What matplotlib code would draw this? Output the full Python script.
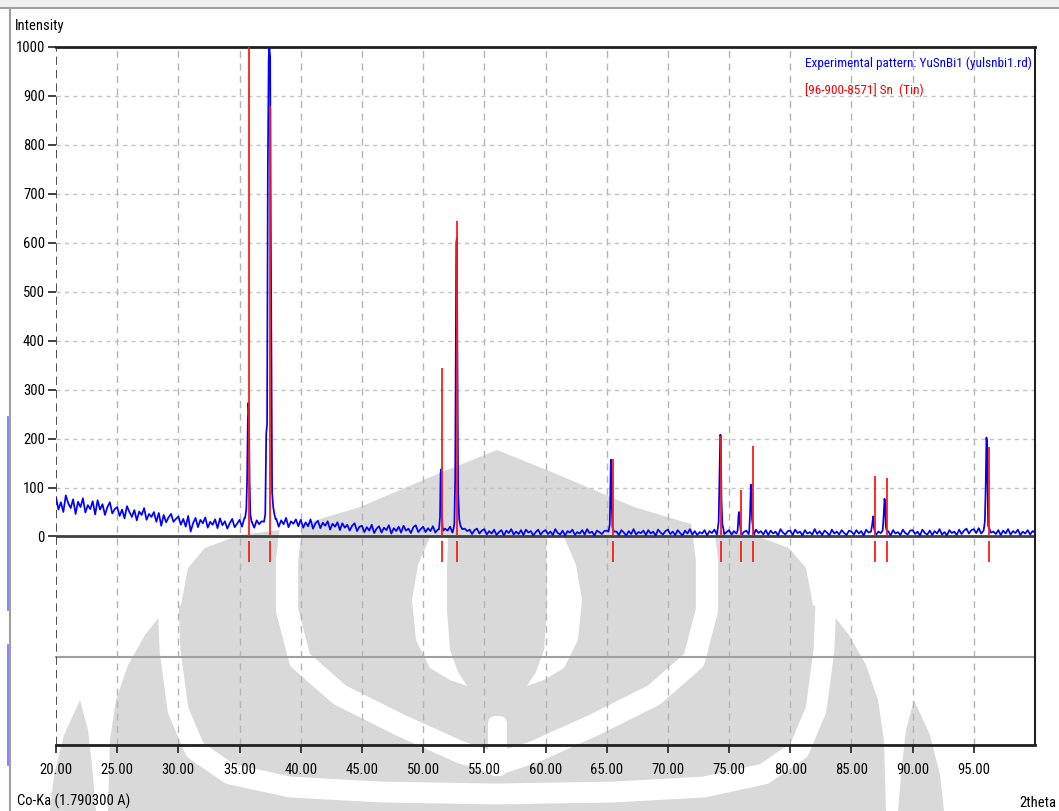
import numpy as np
import matplotlib
matplotlib.use("Agg")
import matplotlib.pyplot as plt
from matplotlib import font_manager as fm
from matplotlib.patches import Polygon, Rectangle, FancyBboxPatch

# Scan background, one reading every 0.2 deg from 20.0 to 100.0
bg_start = 20.0
bg_step = 0.2
bg_counts = [
    80, 55, 70, 50, 84, 68, 58, 76, 46, 71, 60, 78, 49, 64, 56, 72, 45, 74, 55, 66, 44, 60, 70, 47, 56,  # 20-25
    60, 42, 55, 37, 62, 50, 40, 54, 33, 51, 44, 58, 34, 46, 40, 50, 30, 48, 22, 44, 29, 39, 46, 30, 36,  # 25-30
    41, 24, 36, 20, 42, 10, 27, 38, 19, 34, 27, 39, 18, 30, 24, 35, 17, 37, 23, 31, 16, 27, 36, 19, 26,  # 30-35
    34, 20, 38, 24, 28, 30, 18, 33, 25, 31, 24, 28, 22, 30, 24, 36, 20, 33, 25, 38, 19, 31, 26, 35, 21,  # 35-40
    34, 18, 29, 21, 35, 16, 27, 32, 17, 28, 22, 31, 14, 26, 20, 29, 13, 27, 18, 24, 12, 22, 27, 11, 20,  # 40-45
    22, 9, 19, 12, 24, 7, 16, 21, 8, 18, 13, 23, 6, 17, 11, 20, 8, 22, 12, 16, 7, 19, 23, 9, 15,        # 45-50
    20, 9, 17, 11, 21, 8, 14, 19, 7, 16, 12, 20, 8, 15, 10, 17, 6, 16, 11, 14, 5, 13, 16, 6, 12,        # 50-55
    15, 4, 11, 6, 14, 3, 9, 13, 2, 12, 7, 15, 4, 10, 5, 13, 3, 14, 8, 11, 2, 9, 14, 4, 10,              # 55-60
    13, 5, 10, 3, 15, 7, 4, 12, 2, 11, 8, 14, 3, 9, 6, 13, 4, 15, 7, 10, 2, 12, 9, 5, 11,               # 60-65
    12, 4, 14, 6, 10, 3, 13, 8, 2, 11, 5, 15, 4, 9, 7, 12, 3, 13, 6, 10, 2, 14, 8, 4, 11,               # 65-70
    14, 5, 10, 3, 13, 7, 2, 12, 6, 15, 4, 11, 3, 9, 6, 13, 2, 11, 7, 14, 4, 10, 12, 5, 9,               # 70-75
    13, 4, 11, 6, 15, 3, 9, 12, 5, 10, 2, 14, 7, 11, 4, 13, 3, 12, 6, 10, 2, 15, 8, 4, 11,              # 75-80
    12, 3, 14, 7, 10, 2, 13, 6, 9, 4, 15, 5, 11, 3, 12, 8, 2, 14, 6, 10, 4, 13, 7, 3, 12,               # 80-85
    10, 4, 13, 6, 11, 2, 14, 8, 5, 12, 3, 10, 7, 15, 4, 11, 2, 13, 6, 9, 3, 14, 7, 4, 12,               # 85-90
    13, 5, 10, 2, 14, 7, 4, 12, 3, 11, 6, 15, 4, 9, 2, 13, 7, 10, 3, 14, 5, 12, 16, 6, 13,              # 90-95
    15, 7, 17, 6, 12, 4, 14, 8, 10, 5, 13, 3, 12, 6, 15, 4, 11, 7, 14, 3, 10, 6, 13, 4, 11,             # 95-100
    8,
]

# Measured peak profiles (2theta, counts)
peak_2theta = [
    [35.45, 35.55, 35.62, 35.67, 35.72, 35.77, 35.82, 35.88, 35.98],
    [37.00, 37.10, 37.18, 37.25, 37.31, 37.38, 37.43, 37.50, 37.55, 37.60, 37.66, 37.75, 37.85, 37.95],
    [51.30, 51.38, 51.43, 51.47, 51.52, 51.58, 51.65],
    [52.45, 52.55, 52.62, 52.67, 52.71, 52.76, 52.80, 52.86, 52.95, 53.05, 53.20],
    [65.15, 65.25, 65.30, 65.34, 65.38, 65.42, 65.48, 65.60],
    [74.05, 74.15, 74.22, 74.28, 74.33, 74.38, 74.45, 74.55],
    [75.70, 75.78, 75.82, 75.87, 75.95],
    [76.65, 76.72, 76.78, 76.83, 76.88, 76.98],
    [86.60, 86.70, 86.78, 86.84, 86.92],
    [87.55, 87.63, 87.70, 87.75, 87.81, 87.90],
    [95.80, 95.90, 95.97, 96.03, 96.08, 96.12, 96.17, 96.30],
]
peak_counts = [
    [38, 55, 120, 230, 273, 250, 110, 45, 30],
    [30, 45, 210, 230, 750, 975, 1000, 980, 650, 380, 90, 60, 45, 35],
    [15, 40, 130, 137, 60, 20, 12],
    [12, 25, 120, 380, 600, 610, 380, 90, 35, 22, 15],
    [10, 25, 90, 157, 150, 60, 18, 10],
    [12, 30, 120, 208, 205, 75, 25, 14],
    [12, 45, 50, 30, 12],
    [12, 50, 106, 95, 35, 14],
    [10, 25, 41, 18, 10],
    [12, 40, 77, 72, 20, 10],
    [12, 30, 100, 202, 195, 110, 22, 14],
]

# Reference pattern [96-900-8571] Sn (Tin)
sn_2theta = [35.80, 37.47, 51.56, 52.76, 65.49, 74.37, 75.95, 76.93, 86.94, 87.92, 96.26]
sn_intensity = [1000, 880, 344, 645, 159, 205, 95, 184, 123, 120, 183]


def narrow_font():
    # prefer a condensed face, the labels are tightly packed
    for fam in ['Liberation Sans Narrow', 'DejaVu Sans Condensed', 'Roboto Condensed',
                'Noto Sans Condensed', 'Open Sans Condensed']:
        try:
            fm.findfont(fm.FontProperties(family=fam), fallback_to_default=False)
            return fam, 1.0
        except ValueError:
            pass
    for fam in ['DejaVu Sans', 'Noto Sans', 'Open Sans']:
        path = fm.findfont(fm.FontProperties(family=fam, stretch='condensed'))
        if 'ondensed' in path:
            return fam, 1.0
    return 'Liberation Sans', 0.86


FONT, FSCALE = narrow_font()
plt.rcParams['font.family'] = [FONT, 'DejaVu Sans']
if FONT in ('DejaVu Sans', 'Noto Sans', 'Open Sans'):
    plt.rcParams['font.stretch'] = 'condensed'

# assemble the experimental scan
bg_x = bg_start + bg_step * np.arange(len(bg_counts))
bg_y = np.array(bg_counts, dtype=float)
keep = np.ones(len(bg_x), dtype=bool)
for px in peak_2theta:
    keep &= ~((bg_x >= px[0]) & (bg_x <= px[-1]))
scan_x = np.concatenate([bg_x[keep]] + [np.array(p) for p in peak_2theta])
scan_y = np.concatenate([bg_y[keep]] + [np.array(c, dtype=float) for c in peak_counts])
order = np.argsort(scan_x)
scan_x, scan_y = scan_x[order], scan_y[order]

W, H = 1059, 811
fig = plt.figure(figsize=(W / 100, H / 100), dpi=100)
fig.patch.set_facecolor('white')

# faint emblem behind the chart, laid out in pixel units (symmetric about x=497)
bg = fig.add_axes([0, 0, 1, 1], zorder=0)
bg.set_xlim(0, W)
bg.set_ylim(H, 0)
bg.axis('off')
wm = '#d9d9d9'


def mirror(pts):
    return [(994 - x, y) for x, y in pts]


body_left = [(497, 450), (440, 473), (400, 490), (360, 507), (310, 522), (280, 530),
             (240, 535), (205, 548), (188, 568), (181, 605), (163, 612), (145, 635),
             (128, 665), (116, 700), (110, 740), (108, 811)]
body = body_left + mirror(body_left)[::-1]
bg.add_patch(Polygon(body, closed=True, color=wm, lw=0))
far_leaf = [(80, 700), (64, 735), (54, 775), (50, 811), (96, 811), (92, 765), (88, 730)]
bg.add_patch(Polygon(far_leaf, closed=True, color=wm, lw=0))
bg.add_patch(Polygon(mirror(far_leaf), closed=True, color=wm, lw=0))

ring = [(292, 520), (287, 560), (287, 610), (300, 660), (340, 695), (400, 725), (460, 752), (497, 764)]
ring_path = ring + mirror(ring)[::-1]
bg.plot(*zip(*ring_path), color='white', lw=16, solid_joinstyle='round')
sweep = [(168, 600), (170, 650), (178, 710), (195, 750), (230, 774), (290, 787), (380, 792), (497, 794)]
sweep_path = sweep + mirror(sweep)[::-1]
bg.plot(*zip(*sweep_path), color='white', lw=15, solid_joinstyle='round')

crescent = [(430, 537), (418, 565), (412, 600), (416, 640), (430, 668), (450, 680), (467, 686),
            (458, 672), (450, 650), (447, 610), (447, 570), (448, 537)]
bg.add_patch(Polygon(crescent, closed=True, color='white', lw=0))
bg.add_patch(Polygon(mirror(crescent), closed=True, color='white', lw=0))
bg.add_patch(FancyBboxPatch((488, 716), 19, 60, boxstyle='round,pad=0,rounding_size=8',
                            color='white', lw=0))

# window frame
bg.add_patch(Rectangle((0, 0), W, 7, color='#efefef', lw=0))
bg.plot([0, W], [7.5, 7.5], color='#a0a0a0', lw=1.5)
bg.plot([9.5, 9.5], [7.5, H], color='#a0a0a0', lw=1.5)
bg.plot([7.5, 7.5], [417, 610], color='#7070ff', lw=1.2)
bg.plot([7.5, 7.5], [645, 765], color='#7070ff', lw=1.2)

ax = fig.add_axes([56 / W, 1 - 745 / H, (1035 - 56) / W, (745 - 47) / H], zorder=2)
ax.set_facecolor('none')
ax.set_xlim(20, 100)
ax.set_ylim(-426, 1000)

# grid
for gx in np.arange(25, 100, 5):
    ax.axvline(gx, color='#b4b4b4', lw=1.0, ls=(0, (5, 4)), zorder=1)
ax.hlines(np.arange(100, 1001, 100), 20, 100, color='#c4c4c4', lw=1.0, ls=(0, (3, 3)), zorder=1)
ax.axvline(20, color='#303030', lw=1.2, ls=(0, (5, 3)), zorder=3)
ax.axhline(0, color='#404040', lw=2.0, zorder=2)
ax.axhline(-247, color='#a0a0a0', lw=1.5, zorder=1, clip_on=False)

# experimental pattern and reference sticks
ax.plot(scan_x, scan_y, color='#0000ff', lw=1.25, zorder=4)
ax.vlines(sn_2theta, 0, sn_intensity, color='#ff1a1a', lw=1.3, zorder=5)
ax.vlines(sn_2theta, -53, -10, color='#ff1a1a', lw=1.3, zorder=5)

ax.spines['left'].set_visible(False)
ax.spines['top'].set_linewidth(2.0)
ax.spines['bottom'].set_linewidth(2.0)
ax.spines['right'].set_linewidth(1.5)
for s in ['top', 'bottom', 'right']:
    ax.spines[s].set_color('#202020')

fs = 10.5 * FSCALE
ax.set_xticks(np.arange(20, 100, 5))
ax.set_xticklabels(['%.2f' % v for v in np.arange(20, 100, 5)])
ax.set_yticks(np.arange(0, 1001, 100))
ax.set_yticklabels([str(v) for v in range(0, 1001, 100)])
ax.tick_params(axis='x', direction='out', length=6, width=1.2, pad=7, labelsize=fs,
               colors='#202020', labelcolor='#000000')
ax.tick_params(axis='y', direction='out', length=6, width=1.2, pad=2, labelsize=fs,
               colors='#202020', labelcolor='#000000')


def px_text(x, y, s, **kw):
    fig.text(x / W, 1 - y / H, s, va='center', **kw)


px_text(15, 26, 'Intensity', fontsize=fs, color='#000000')
px_text(805, 63, 'Experimental pattern: YuSnBi1 (yulsnbi1.rd)', fontsize=9.5 * FSCALE, color='#0000ff')
px_text(805, 90, '[96-900-8571] Sn  (Tin)', fontsize=9.5 * FSCALE, color='#ff0000')
px_text(17, 801, 'Co-Ka (1.790300 A)', fontsize=fs, color='#000000')
px_text(1056, 803, '2theta', fontsize=fs, color='#000000', ha='right')

fig.savefig('out.png', dpi=100)
